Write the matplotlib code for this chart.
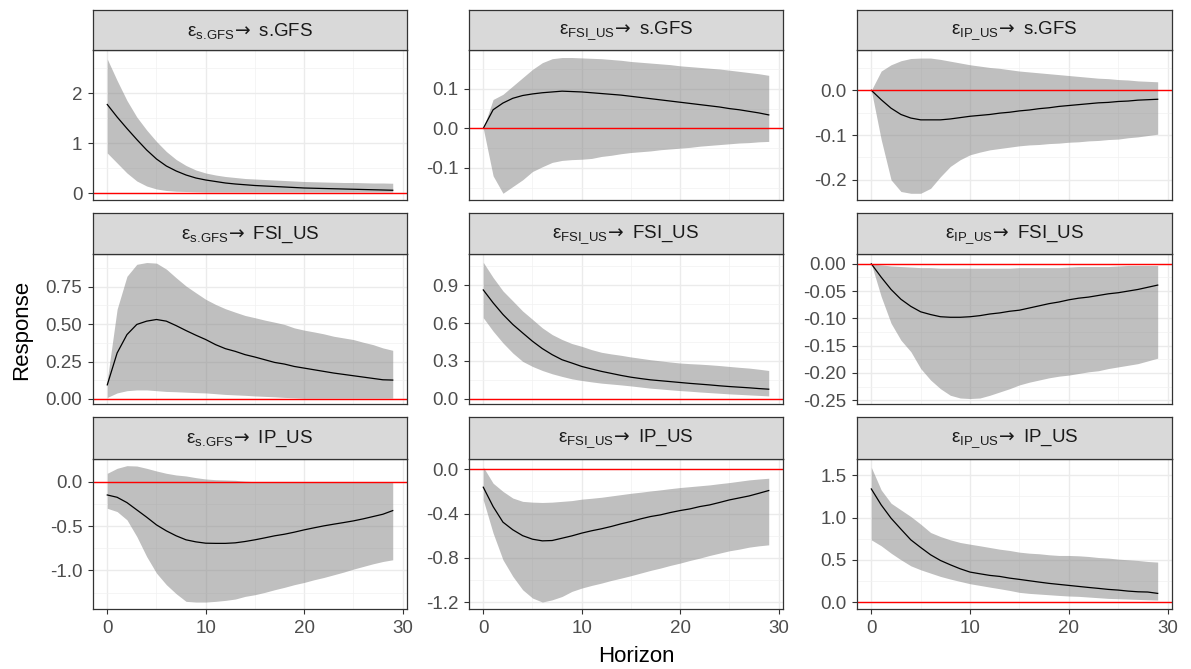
import matplotlib
matplotlib.use("Agg")
import matplotlib.pyplot as plt
import numpy as np

plt.rcParams['font.family'] = ['Liberation Sans', 'DejaVu Sans']
plt.rcParams['axes.unicode_minus'] = False

# horizons and variable names
horizon = list(range(30))
shocks = ["s.GFS", "FSI_US", "IP_US"]
responses = ["s.GFS", "FSI_US", "IP_US"]

# s.GFS -> s.GFS
gfs_gfs_mid = [1.77, 1.52, 1.29, 1.07, 0.86, 0.68, 0.54, 0.44, 0.36, 0.30, 0.26, 0.23, 0.20, 0.18, 0.165,
               0.15, 0.14, 0.13, 0.12, 0.11, 0.10, 0.095, 0.09, 0.085, 0.08, 0.075, 0.07, 0.065, 0.06, 0.055]
gfs_gfs_hi = [2.68, 2.25, 1.85, 1.52, 1.26, 1.03, 0.83, 0.67, 0.55, 0.46, 0.40, 0.36, 0.33, 0.31, 0.29,
              0.28, 0.27, 0.26, 0.25, 0.24, 0.23, 0.225, 0.22, 0.215, 0.21, 0.21, 0.205, 0.20, 0.20, 0.195]
gfs_gfs_lo = [0.80, 0.60, 0.40, 0.24, 0.14, 0.08, 0.05, 0.035, 0.03, 0.025, 0.02, 0.02, 0.02, 0.02, 0.02,
              0.02, 0.02, 0.02, 0.02, 0.02, 0.02, 0.02, 0.02, 0.02, 0.02, 0.02, 0.02, 0.02, 0.02, 0.02]

# FSI_US -> s.GFS
fsi_gfs_mid = [0.0, 0.047, 0.064, 0.076, 0.083, 0.087, 0.090, 0.092, 0.094, 0.093, 0.092, 0.090, 0.088, 0.086, 0.084,
               0.081, 0.078, 0.075, 0.072, 0.069, 0.066, 0.063, 0.060, 0.057, 0.054, 0.050, 0.047, 0.043, 0.039, 0.034]
fsi_gfs_hi = [0.0, 0.073, 0.086, 0.107, 0.128, 0.149, 0.166, 0.176, 0.179, 0.179, 0.178, 0.177, 0.176, 0.174, 0.172,
              0.169, 0.167, 0.165, 0.163, 0.161, 0.158, 0.156, 0.154, 0.152, 0.150, 0.147, 0.144, 0.141, 0.138, 0.134]
fsi_gfs_lo = [0.0, -0.12, -0.164, -0.147, -0.13, -0.109, -0.097, -0.086, -0.081, -0.079, -0.078, -0.076, -0.071, -0.068, -0.064,
              -0.061, -0.059, -0.057, -0.054, -0.052, -0.050, -0.048, -0.045, -0.043, -0.041, -0.039, -0.037, -0.036, -0.034, -0.033]

# IP_US -> s.GFS
ip_gfs_mid = [0.0, -0.021, -0.040, -0.054, -0.062, -0.066, -0.066, -0.066, -0.064, -0.061, -0.058, -0.056, -0.054, -0.051, -0.049,
              -0.046, -0.044, -0.041, -0.039, -0.036, -0.034, -0.032, -0.030, -0.028, -0.027, -0.025, -0.024, -0.022, -0.021, -0.020]
ip_gfs_hi = [0.0, 0.043, 0.057, 0.066, 0.071, 0.072, 0.072, 0.069, 0.065, 0.061, 0.057, 0.054, 0.051, 0.049, 0.046,
             0.043, 0.041, 0.039, 0.037, 0.035, 0.033, 0.031, 0.029, 0.027, 0.026, 0.024, 0.023, 0.021, 0.020, 0.019]
ip_gfs_lo = [0.0, -0.11, -0.20, -0.226, -0.23, -0.23, -0.219, -0.193, -0.17, -0.155, -0.144, -0.138, -0.133, -0.13, -0.127,
             -0.124, -0.122, -0.121, -0.119, -0.118, -0.116, -0.115, -0.113, -0.112, -0.110, -0.109, -0.106, -0.104, -0.101, -0.098]

# s.GFS -> FSI_US
gfs_fsi_mid = [0.094, 0.307, 0.43, 0.498, 0.52, 0.531, 0.52, 0.49, 0.457, 0.426, 0.397, 0.363, 0.336, 0.318, 0.296,
               0.28, 0.262, 0.244, 0.233, 0.217, 0.206, 0.195, 0.184, 0.173, 0.164, 0.155, 0.146, 0.137, 0.128, 0.126]
gfs_fsi_hi = [0.128, 0.60, 0.82, 0.90, 0.912, 0.908, 0.868, 0.81, 0.755, 0.71, 0.666, 0.632, 0.603, 0.58, 0.558,
              0.543, 0.527, 0.513, 0.498, 0.475, 0.46, 0.448, 0.435, 0.419, 0.408, 0.397, 0.379, 0.363, 0.341, 0.325]
gfs_fsi_lo = [0.01, 0.04, 0.055, 0.06, 0.06, 0.055, 0.05, 0.048, 0.045, 0.042, 0.04, 0.035, 0.03, 0.027, 0.024,
              0.02, 0.017, 0.014, 0.01, 0.008, 0.005, 0.005, 0.005, 0.005, 0.005, 0.005, 0.005, 0.005, 0.005, 0.005]

# FSI_US -> FSI_US
fsi_fsi_mid = [0.862, 0.76, 0.668, 0.589, 0.522, 0.456, 0.398, 0.35, 0.31, 0.284, 0.257, 0.237, 0.218, 0.202, 0.186,
               0.172, 0.161, 0.151, 0.144, 0.137, 0.13, 0.123, 0.117, 0.111, 0.104, 0.098, 0.093, 0.088, 0.082, 0.077]
fsi_fsi_hi = [1.08, 0.96, 0.854, 0.775, 0.695, 0.629, 0.562, 0.509, 0.47, 0.438, 0.416, 0.39, 0.369, 0.356, 0.345,
              0.332, 0.321, 0.31, 0.301, 0.292, 0.284, 0.279, 0.275, 0.27, 0.264, 0.257, 0.25, 0.244, 0.235, 0.225]
fsi_fsi_lo = [0.642, 0.536, 0.443, 0.363, 0.297, 0.257, 0.225, 0.199, 0.178, 0.159, 0.146, 0.135, 0.125, 0.118, 0.111,
              0.103, 0.094, 0.085, 0.079, 0.072, 0.066, 0.061, 0.055, 0.05, 0.045, 0.04, 0.036, 0.032, 0.028, 0.024]

# IP_US -> FSI_US
ip_fsi_mid = [0.0, -0.0245, -0.047, -0.065, -0.078, -0.088, -0.093, -0.097, -0.098, -0.098, -0.097, -0.095, -0.092, -0.090, -0.087,
              -0.085, -0.081, -0.077, -0.073, -0.070, -0.066, -0.063, -0.061, -0.058, -0.055, -0.053, -0.050, -0.047, -0.043, -0.039]
ip_fsi_hi = [0.0, -0.002, -0.004, -0.005, -0.006, -0.007, -0.007, -0.008, -0.008, -0.008, -0.008, -0.008, -0.008, -0.008, -0.008,
             -0.007, -0.007, -0.007, -0.007, -0.007, -0.006, -0.005, -0.005, -0.005, -0.005, -0.004, -0.003, -0.003, -0.003, -0.003]
ip_fsi_lo = [0.0, -0.06, -0.109, -0.14, -0.161, -0.192, -0.213, -0.229, -0.241, -0.246, -0.247, -0.246, -0.241, -0.235, -0.229,
             -0.222, -0.217, -0.213, -0.209, -0.206, -0.204, -0.201, -0.198, -0.196, -0.192, -0.189, -0.186, -0.183, -0.178, -0.173]

# s.GFS -> IP_US
gfs_ip_mid = [-0.15, -0.176, -0.236, -0.318, -0.40, -0.487, -0.554, -0.61, -0.655, -0.678, -0.693, -0.695, -0.695, -0.689, -0.674,
              -0.655, -0.633, -0.61, -0.592, -0.569, -0.543, -0.52, -0.498, -0.479, -0.461, -0.442, -0.419, -0.393, -0.367, -0.326]
gfs_ip_hi = [0.094, 0.15, 0.18, 0.176, 0.15, 0.12, 0.094, 0.075, 0.064, 0.045, 0.03, 0.022, 0.019, 0.015, 0.005,
             0.0, -0.005, -0.005, -0.005, -0.005, -0.005, -0.005, -0.005, -0.005, -0.005, -0.005, -0.005, -0.005, -0.005, -0.005]
gfs_ip_lo = [-0.30, -0.337, -0.43, -0.618, -0.843, -1.03, -1.16, -1.262, -1.348, -1.356, -1.356, -1.348, -1.337, -1.322, -1.292,
             -1.273, -1.247, -1.217, -1.19, -1.16, -1.135, -1.105, -1.079, -1.049, -1.019, -0.985, -0.955, -0.925, -0.899, -0.88]

# FSI_US -> IP_US
fsi_ip_mid = [-0.162, -0.337, -0.478, -0.547, -0.60, -0.632, -0.647, -0.644, -0.623, -0.602, -0.577, -0.556, -0.538, -0.517, -0.493,
              -0.472, -0.448, -0.427, -0.412, -0.391, -0.373, -0.358, -0.337, -0.322, -0.30, -0.277, -0.259, -0.241, -0.217, -0.192]
fsi_ip_hi = [0.02, -0.126, -0.20, -0.26, -0.29, -0.297, -0.30, -0.297, -0.29, -0.283, -0.27, -0.262, -0.253, -0.241, -0.229,
             -0.217, -0.207, -0.196, -0.186, -0.175, -0.165, -0.157, -0.149, -0.141, -0.13, -0.12, -0.108, -0.096, -0.088, -0.081]
fsi_ip_lo = [-0.277, -0.577, -0.818, -0.968, -1.089, -1.164, -1.2, -1.18, -1.15, -1.104, -1.074, -1.05, -1.029, -1.005, -0.984,
             -0.962, -0.938, -0.914, -0.893, -0.869, -0.848, -0.824, -0.803, -0.779, -0.758, -0.737, -0.722, -0.704, -0.692, -0.683]

# IP_US -> IP_US
ip_ip_mid = [1.337, 1.149, 0.992, 0.863, 0.737, 0.647, 0.561, 0.494, 0.443, 0.396, 0.357, 0.337, 0.318, 0.306, 0.286,
             0.271, 0.255, 0.239, 0.224, 0.212, 0.20, 0.188, 0.176, 0.165, 0.153, 0.145, 0.133, 0.125, 0.122, 0.106]
ip_ip_hi = [1.592, 1.325, 1.169, 1.09, 1.012, 0.922, 0.824, 0.776, 0.737, 0.706, 0.686, 0.667, 0.647, 0.627, 0.612,
            0.592, 0.58, 0.573, 0.561, 0.553, 0.553, 0.549, 0.541, 0.529, 0.522, 0.51, 0.502, 0.494, 0.482, 0.475]
ip_ip_lo = [0.737, 0.667, 0.58, 0.502, 0.431, 0.384, 0.345, 0.306, 0.275, 0.247, 0.22, 0.2, 0.18, 0.161, 0.141,
            0.118, 0.106, 0.098, 0.09, 0.082, 0.075, 0.071, 0.063, 0.055, 0.047, 0.043, 0.039, 0.035, 0.031, 0.027]

# panels row by row (response), column by column (shock)
panels = [
    [(gfs_gfs_mid, gfs_gfs_lo, gfs_gfs_hi), (fsi_gfs_mid, fsi_gfs_lo, fsi_gfs_hi), (ip_gfs_mid, ip_gfs_lo, ip_gfs_hi)],
    [(gfs_fsi_mid, gfs_fsi_lo, gfs_fsi_hi), (fsi_fsi_mid, fsi_fsi_lo, fsi_fsi_hi), (ip_fsi_mid, ip_fsi_lo, ip_fsi_hi)],
    [(gfs_ip_mid, gfs_ip_lo, gfs_ip_hi), (fsi_ip_mid, fsi_ip_lo, fsi_ip_hi), (ip_ip_mid, ip_ip_lo, ip_ip_hi)],
]

# y axis settings for each panel: limits, major ticks, minor ticks, label format
y_setup = [
    [((-0.14, 2.86), [0, 1, 2], [0.5, 1.5, 2.5], "{:.0f}"),
     ((-0.181, 0.198), [-0.1, 0.0, 0.1], [-0.15, -0.05, 0.05, 0.15], "{:.1f}"),
     ((-0.245, 0.09), [-0.2, -0.1, 0.0], [-0.15, -0.05, 0.05], "{:.1f}")],
    [((-0.034, 0.969), [0, 0.25, 0.5, 0.75], [0.125, 0.375, 0.625, 0.875], "{:.2f}"),
     ((-0.04, 1.146), [0, 0.3, 0.6, 0.9], [0.15, 0.45, 0.75, 1.05], "{:.1f}"),
     ((-0.257, 0.018), [-0.25, -0.2, -0.15, -0.1, -0.05, 0.0], [-0.225, -0.175, -0.125, -0.075, -0.025], "{:.2f}")],
    [((-1.434, 0.255), [-1.0, -0.5, 0.0], [-1.25, -0.75, -0.25, 0.25], "{:.1f}"),
     ((-1.263, 0.093), [-1.2, -0.8, -0.4, 0.0], [-1.0, -0.6, -0.2], "{:.1f}"),
     ((-0.078, 1.69), [0, 0.5, 1.0, 1.5], [0.25, 0.75, 1.25], "{:.1f}")],
]

W, H = 1191, 669
col_l = [93, 469, 857]
col_r = [407, 783, 1172]
strip_top = [10, 213, 417]
strip_bot = [50, 254, 459]
plot_bot = [200, 404, 609]


def box(x0, y0, x1, y1):
    return [x0 / W, 1 - y1 / H, (x1 - x0) / W, (y1 - y0) / H]


fig = plt.figure(figsize=(W / 100, H / 100), dpi=100)

for i in range(3):
    for j in range(3):
        mid, lo, hi = panels[i][j]
        ylim, yt, ymt, fmt = y_setup[i][j]

        ax = fig.add_axes(box(col_l[j], strip_bot[i], col_r[j], plot_bot[i]))
        ax.set_axisbelow(True)
        ax.fill_between(horizon, lo, hi, color="grey", alpha=0.5, linewidth=0)
        ax.plot(horizon, mid, color="black", lw=0.9)
        ax.axhline(0, color="red", lw=1.0)

        ax.set_xlim(-1.45, 30.45)
        ax.set_ylim(*ylim)
        ax.set_xticks([0, 10, 20, 30])
        ax.set_xticks([5, 15, 25], minor=True)
        ax.set_yticks(yt)
        ax.set_yticks(ymt, minor=True)
        ax.set_yticklabels([fmt.format(v) for v in yt])
        ax.grid(which="major", color="#EBEBEB", lw=1.0)
        ax.grid(which="minor", color="#F2F2F2", lw=0.5)
        ax.tick_params(which="minor", length=0)
        ax.tick_params(which="major", length=3.6, width=0.8, color="#333333",
                       labelsize=13.5, labelcolor="#4D4D4D", pad=4)
        if i < 2:
            ax.tick_params(axis="x", which="major", length=0, labelbottom=False)
        for s in ax.spines.values():
            s.set_color("#333333")
            s.set_linewidth(0.9)

        st = fig.add_axes(box(col_l[j], strip_top[i], col_r[j], strip_bot[i]))
        st.set_facecolor("#D9D9D9")
        st.set_xticks([])
        st.set_yticks([])
        for s in st.spines.values():
            s.set_color("#333333")
            s.set_linewidth(0.9)
        sub = shocks[j].replace("_", r"\_").replace(".", r".\!")
        label = r"$\mathregular{ε_{" + sub + r"}}\!\rightarrow$ " + responses[i]
        st.text(0.5, 0.47, label, ha="center", va="center", fontsize=13.5, color="#1A1A1A",
                transform=st.transAxes)

fig.text(22 / W, 1 - 330 / H, "Response", rotation=90, ha="center", va="center", fontsize=16)
fig.text(636 / W, 1 - 662 / H, "Horizon", ha="center", va="baseline", fontsize=16)

fig.savefig("out.png", dpi=100)
